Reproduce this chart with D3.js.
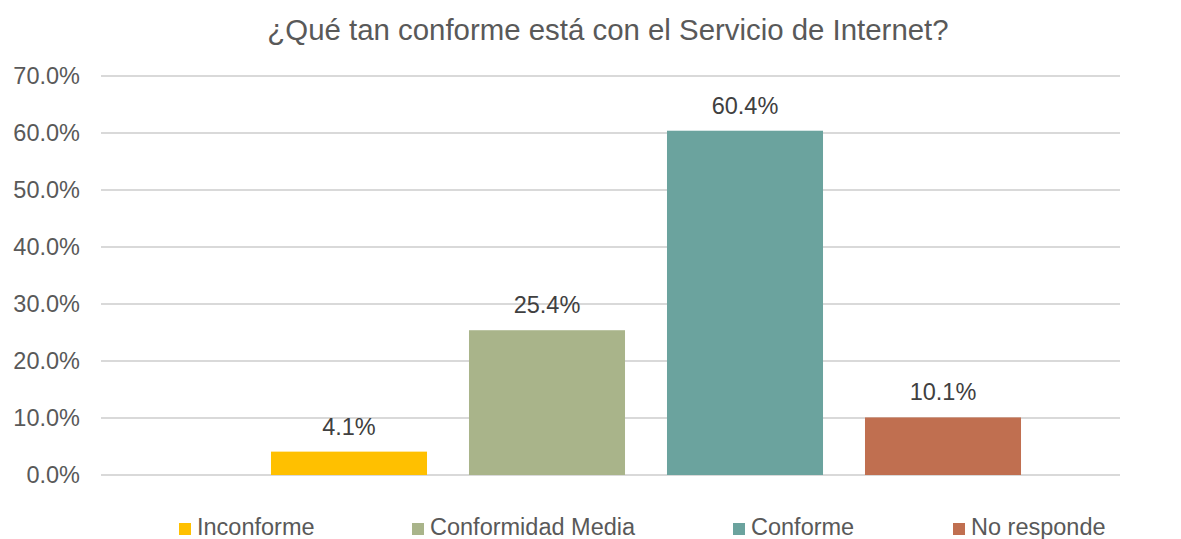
<!DOCTYPE html>
<html>
<head>
<meta charset="utf-8">
<script src="https://cdn.jsdelivr.net/npm/d3@7"></script>
<style>
  body { margin: 0; background: #fff; }
  text { font-family: "Liberation Sans", Arial, sans-serif; }
</style>
</head>
<body>
<div id="chart"></div>
<script>
var categories = ["Inconforme", "Conformidad Media", "Conforme", "No responde"];
var values = [0.041, 0.254, 0.604, 0.101];
var colors = ["#FFC000", "#A9B48A", "#6BA39E", "#C06F50"];
var yTicks = [0, 0.1, 0.2, 0.3, 0.4, 0.5, 0.6, 0.7];
var title = "¿Qué tan conforme está con el Servicio de Internet?";

var width = 1181, height = 539;
var svg = d3.select("#chart").append("svg")
  .attr("width", width)
  .attr("height", height);

// plot area
var plotLeft = 101, plotRight = 1120;
var y = d3.scaleLinear().domain([0, 0.7]).range([475, 76]);
var x = d3.scaleBand()
  .domain(categories)
  .range([250, 1042])
  .paddingInner(0.212)
  .paddingOuter(0.106);

// title
svg.append("text")
  .attr("x", 608)
  .attr("y", 40)
  .attr("text-anchor", "middle")
  .attr("fill", "#595959")
  .style("font-size", "29.4px")
  .text(title);

// gridlines
svg.append("g").selectAll("line")
  .data(yTicks)
  .enter().append("line")
  .attr("x1", plotLeft)
  .attr("x2", plotRight)
  .attr("y1", d => y(d))
  .attr("y2", d => y(d))
  .attr("stroke", "#D9D9D9")
  .attr("stroke-width", 2);

// y axis labels
var yAxis = d3.axisLeft(y).tickValues(yTicks).tickFormat(d3.format(".1%")).tickSize(0).tickPadding(0);
var yg = svg.append("g").attr("transform", "translate(80,0)").call(yAxis);
yg.select(".domain").remove();
yg.selectAll("text")
  .attr("fill", "#595959")
  .style("font-size", "23.5px")
  .style("font-family", "'Liberation Sans', Arial, sans-serif");

// bars
svg.append("g").selectAll("rect")
  .data(values)
  .enter().append("rect")
  .attr("x", (d, i) => x(categories[i]))
  .attr("width", x.bandwidth())
  .attr("y", d => y(d))
  .attr("height", d => y(0) - y(d))
  .attr("fill", (d, i) => colors[i]);

// value labels
svg.append("g").selectAll("text")
  .data(values)
  .enter().append("text")
  .attr("x", (d, i) => x(categories[i]) + x.bandwidth() / 2)
  .attr("y", d => y(d) - 17)
  .attr("text-anchor", "middle")
  .attr("fill", "#404040")
  .style("font-size", "23.5px")
  .text(d => d3.format(".1%")(d));

// legend
var legendX = [179, 412, 733, 953];
var legend = svg.append("g").selectAll("g")
  .data(categories)
  .enter().append("g")
  .attr("transform", (d, i) => "translate(" + legendX[i] + ",523)");
legend.append("rect")
  .attr("width", 12)
  .attr("height", 12)
  .attr("fill", (d, i) => colors[i]);
legend.append("text")
  .attr("x", 18)
  .attr("y", 12)
  .attr("fill", "#595959")
  .style("font-size", "23.5px")
  .text(d => d);
</script>
</body>
</html>
